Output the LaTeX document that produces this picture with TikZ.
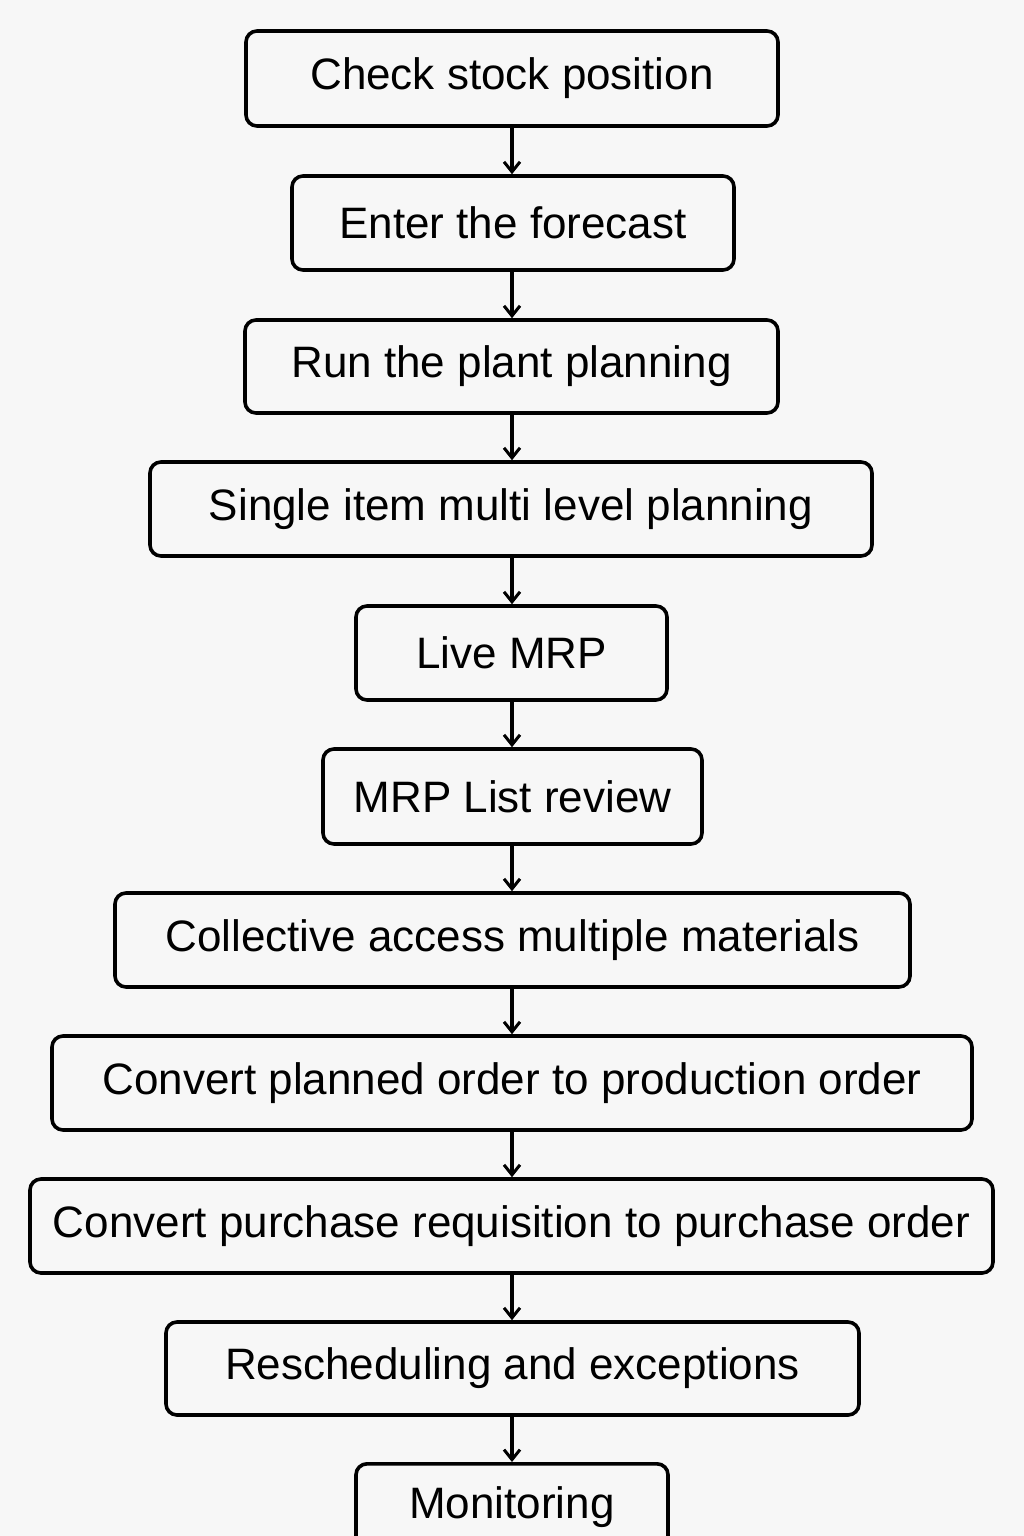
\documentclass[tikz,border=0pt]{standalone}
\usepackage{fontspec}
\setmainfont{Liberation Sans}
\usetikzlibrary{arrows.meta}
\begin{document}
\begin{tikzpicture}[x=1pt,y=-1pt,
 box/.style={draw,line width=3.6pt,rounded corners=11pt,font=\fontsize{44}{48}\selectfont,inner sep=0pt},
 arr/.style={-{Straight Barb[length=10pt,width=16pt,line width=3pt]},line width=3.4pt}]
\fill[white!97!black] (0,0) rectangle (1024,1536);
\useasboundingbox (0,0) rectangle (1024,1536);
\newcommand{\bx}[6]{\node[box,minimum width={#4-#2},minimum height={#5-#3}] (#1) at ({(#2+#4)/2},{(#3+#5)/2}) {#6};}
\bx{b1}{246}{31}{778}{126}{Check stock position}
\bx{b2}{292}{176}{734}{270}{Enter the forecast}
\bx{b3}{245}{320}{778}{413}{Run the plant planning}
\bx{b4}{150}{462}{872}{556}{Single item multi level planning}
\bx{b5}{356}{606}{667}{700}{Live MRP}
\bx{b6}{323}{749}{702}{844}{MRP List review}
\bx{b7}{115}{893}{910}{987}{Collective access multiple materials}
\bx{b8}{52}{1036}{972}{1130}{Convert planned order to production order}
\bx{b9}{30}{1179}{993}{1273}{Convert purchase requisition to purchase order}
\bx{b10}{166}{1322}{859}{1415}{Rescheduling and exceptions}
\node[box,minimum width=312,minimum height=120,anchor=north] (b11) at (512,1462) {};
\node[font=\fontsize{44}{48}\selectfont] (t11) at (512,1507) {Monitoring};
\foreach \a/\b in {b1/b2,b2/b3,b3/b4,b4/b5,b5/b6,b6/b7,b7/b8,b8/b9,b9/b10,b10/b11}
  \draw[arr] (\a.south -| 512,0) -- (\b.north -| 512,0);
\end{tikzpicture}
\end{document}
